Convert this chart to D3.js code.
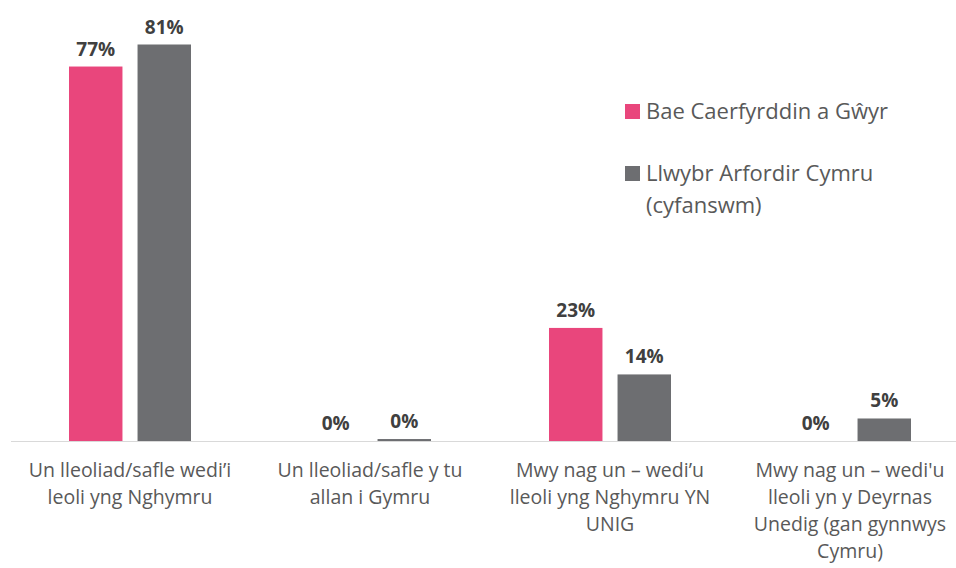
<!DOCTYPE html>
<html>
<head>
<meta charset="utf-8">
<script src="https://cdn.jsdelivr.net/npm/d3@7"></script>
<style>
  body { margin: 0; background: #fff; }
  text { font-family: "Open Sans", "DejaVu Sans", sans-serif; }
</style>
</head>
<body>
<div id="chart"></div>
<script>
// chart data
var categories = [
  ["Un lleoliad/safle wedi\u2019i", "leoli yng Nghymru"],
  ["Un lleoliad/safle y tu", "allan i Gymru"],
  ["Mwy nag un \u2013 wedi\u2019u", "lleoli yng Nghymru YN", "UNIG"],
  ["Mwy nag un \u2013 wedi'u", "lleoli yn y Deyrnas", "Unedig (gan gynnwys", "Cymru)"]
];
var seriesNames = ["Bae Caerfyrddin a G\u0175yr", "Llwybr Arfordir Cymru (cyfanswm)"];
var baeValues = [76.5, 0, 23.1, 0];
var llwybrValues = [81, 0.4, 13.6, 4.6];
var baeLabels = ["77%", "0%", "23%", "0%"];
var llwybrLabels = ["81%", "0%", "14%", "5%"];

var colors = ["#e9467c", "#6d6e71"];

var width = 956, height = 568;
var baseline = 441;

var svg = d3.select("#chart").append("svg")
    .attr("width", width)
    .attr("height", height);

// x scale: one band per category
var x = d3.scaleBand()
    .domain(d3.range(categories.length))
    .range([10, 970]);

var x1 = d3.scaleBand()
    .domain([0, 1])
    .range([x.bandwidth() / 2 - 61, x.bandwidth() / 2 + 61])
    .paddingInner(0.22);

var y = d3.scaleLinear()
    .domain([0, 81])
    .range([baseline, 44.5]);

var series = [
  { name: seriesNames[0], values: baeValues, labels: baeLabels },
  { name: seriesNames[1], values: llwybrValues, labels: llwybrLabels }
];

// bars
series.forEach(function (s, si) {
  svg.append("g").selectAll("rect")
      .data(s.values)
      .enter().append("rect")
      .attr("x", function (d, i) { return x(i) + x1(si); })
      .attr("width", x1.bandwidth())
      .attr("y", function (d) { return y(d); })
      .attr("height", function (d) { return baseline - y(d); })
      .style("fill", colors[si]);

  svg.append("g").selectAll("text")
      .data(s.labels)
      .enter().append("text")
      .attr("x", function (d, i) { return x(i) + x1(si) + x1.bandwidth() / 2; })
      .attr("y", function (d, i) { return y(s.values[i]) - 11; })
      .attr("text-anchor", "middle")
      .style("font-size", "19px")
      .style("font-weight", "bold")
      .style("fill", "#404040")
      .text(function (d) { return d; });
});

// axis line
svg.append("line")
    .attr("x1", 11).attr("x2", width)
    .attr("y1", baseline + 0.5).attr("y2", baseline + 0.5)
    .style("stroke", "#d9d9d9")
    .style("stroke-width", 1);

// category labels
var cat = svg.append("g").selectAll("text")
    .data(categories)
    .enter().append("text")
    .attr("text-anchor", "middle")
    .style("font-size", "19.5px")
    .style("fill", "#595959");

cat.each(function (lines, i) {
  d3.select(this).selectAll("tspan")
      .data(lines)
      .enter().append("tspan")
      .attr("x", x(i) + x.bandwidth() / 2)
      .attr("y", function (d, j) { return 477 + j * 27; })
      .text(function (d) { return d; });
});

// legend
var legend = svg.append("g").attr("transform", "translate(625,0)");
var legendLines = [[seriesNames[0]], ["Llwybr Arfordir Cymru", "(cyfanswm)"]];
var legendTop = [104, 166];

legendLines.forEach(function (lines, i) {
  legend.append("rect")
      .attr("x", 0).attr("y", legendTop[i])
      .attr("width", 15).attr("height", 15)
      .style("fill", colors[i]);
  legend.append("text")
      .style("font-size", "22px")
      .style("fill", "#595959")
      .selectAll("tspan")
      .data(lines)
      .enter().append("tspan")
      .attr("x", 21)
      .attr("y", function (d, j) { return legendTop[i] + 15 + j * 32; })
      .text(function (d) { return d; });
});
</script>
</body>
</html>
